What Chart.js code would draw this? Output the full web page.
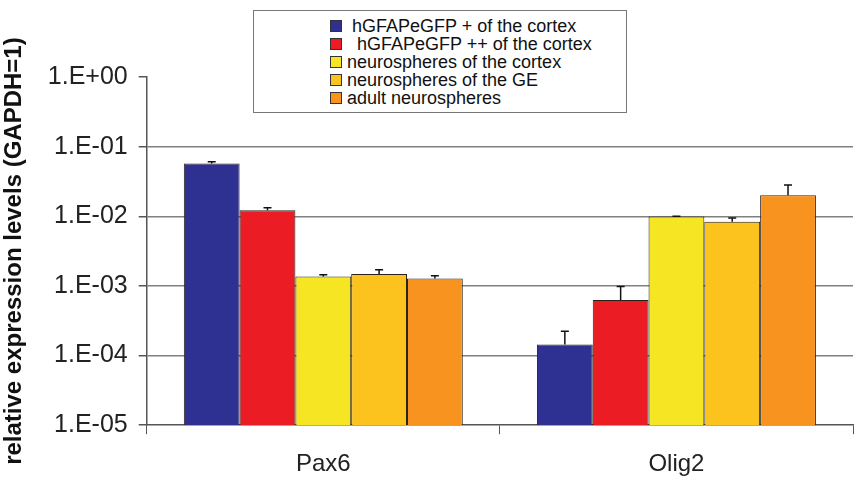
<!DOCTYPE html>
<html>
<head>
<meta charset="utf-8">
<script src="https://cdn.jsdelivr.net/npm/chart.js@4.4.1/dist/chart.umd.min.js"></script>
<style>
  body { margin: 0; background: #fff; }
  #wrap { position: relative; width: 858px; height: 496px; }
  #legend {
    position: absolute; left: 253px; top: 10px; width: 374px; height: 103px;
    border: 1px solid #777; background: #fff; box-sizing: border-box;
    font-family: 'Liberation Sans', Arial, sans-serif; font-size: 18px; color: #111;
    padding-top: 6px;
  }
  #legend .item { display: flex; align-items: center; height: 18px; line-height: 18px; padding-left: 76px; white-space: pre; }
  #legend .box { width: 10px; height: 10px; border: 1px solid #333; margin-right: 5px; flex: none; }
</style>
</head>
<body>
<div id="wrap">
  <canvas id="chart" width="858" height="496"></canvas>
  <div id="legend"></div>
</div>
<script>
// categories and series
const genes = ['Pax6', 'Olig2'];
const seriesLabels = [
  ' hGFAPeGFP + of the cortex',
  '  hGFAPeGFP ++ of the cortex',
  'neurospheres of the cortex',
  'neurospheres of the GE',
  'adult neurospheres'
];
const seriesColors = ['#2e3192', '#ec1c24', '#f6e523', '#fcc31e', '#f7931e'];

const gfpPlus     = [0.0573, 0.000144];
const gfpPlusPlus = [0.0122, 0.00063];
const nsCortex    = [0.00137, 0.0099];
const nsGE        = [0.00148, 0.00838];
const nsAdult     = [0.00128, 0.0200];

// upper error bar sizes
const errGfpPlus     = [0.0032, 0.00008];
const errGfpPlusPlus = [0.0011, 0.00035];
const errNsCortex    = [0.00008, 0.0001];
const errNsGE        = [0.00023, 0.0011];
const errNsAdult     = [0.00012, 0.0082];

const tickValues = [1e-5, 1e-4, 1e-3, 1e-2, 1e-1, 1];
const tickLabels = ['1.E-05', '1.E-04', '1.E-03', '1.E-02', '1.E-01', '1.E+00'];

const values = [gfpPlus, gfpPlusPlus, nsCortex, nsGE, nsAdult];
const errors = [errGfpPlus, errGfpPlusPlus, errNsCortex, errNsGE, errNsAdult];

Chart.defaults.font.family = "'Liberation Sans', Arial, sans-serif";
Chart.defaults.color = '#222';

// upward error bars with a cap
const errorBars = {
  id: 'errorBars',
  afterDatasetsDraw(chart) {
    const ctx = chart.ctx;
    const y = chart.scales.y;
    ctx.save();
    ctx.strokeStyle = '#111';
    ctx.lineWidth = 1.5;
    chart.data.datasets.forEach((ds, i) => {
      chart.getDatasetMeta(i).data.forEach((bar, j) => {
        const top = y.getPixelForValue(ds.data[j] + ds.errors[j]);
        ctx.beginPath();
        ctx.moveTo(bar.x, bar.y);
        ctx.lineTo(bar.x, top);
        ctx.moveTo(bar.x - 4, top);
        ctx.lineTo(bar.x + 4, top);
        ctx.stroke();
      });
    });
    ctx.restore();
  }
};

const chart = new Chart(document.getElementById('chart'), {
  type: 'bar',
  data: {
    labels: genes,
    datasets: seriesLabels.map((lab, i) => ({
      label: lab,
      data: values[i],
      errors: errors[i],
      backgroundColor: seriesColors[i],
      borderColor: '#2a2218',
      borderWidth: 1,
      categoryPercentage: 0.79,
      barPercentage: 1
    }))
  },
  options: {
    responsive: false,
    animation: false,
    layout: { padding: { top: 77, right: 5, bottom: 1, left: 0 } },
    plugins: { legend: { display: false }, tooltip: { enabled: false } },
    scales: {
      x: {
        grid: { drawOnChartArea: false, tickLength: 9, color: '#555', offset: true },
        border: { color: '#555', width: 1.5 },
        ticks: { font: { size: 24 }, padding: 16, color: '#222' }
      },
      y: {
        type: 'logarithmic',
        min: 1e-5,
        max: 1,
        afterBuildTicks(scale) {
          scale.ticks = tickValues.map(v => ({ value: v }));
        },
        grid: {
          color: c => (c.tick && (c.tick.value === 1 || c.tick.value === 1e-5)) ? 'rgba(0,0,0,0)' : '#808080',
          tickColor: '#555',
          tickLength: 8,
          lineWidth: 1.5
        },
        border: { color: '#555', width: 1.5 },
        ticks: {
          font: { size: 25 },
          padding: 11,
          color: '#222',
          callback: (v) => tickLabels[tickValues.indexOf(v)]
        },
        title: {
          display: true,
          text: 'relative expression levels (GAPDH=1)',
          font: { size: 24, weight: 'bold' },
          color: '#111',
          padding: { top: 0, bottom: 8 }
        }
      }
    }
  },
  plugins: [errorBars]
});

// legend built from the same series
const legend = document.getElementById('legend');
seriesLabels.forEach((lab, i) => {
  const row = document.createElement('div');
  row.className = 'item';
  row.innerHTML = '<span class="box" style="background:' + seriesColors[i] + '"></span><span></span>';
  row.lastChild.textContent = lab;
  legend.appendChild(row);
});
</script>
</body>
</html>
